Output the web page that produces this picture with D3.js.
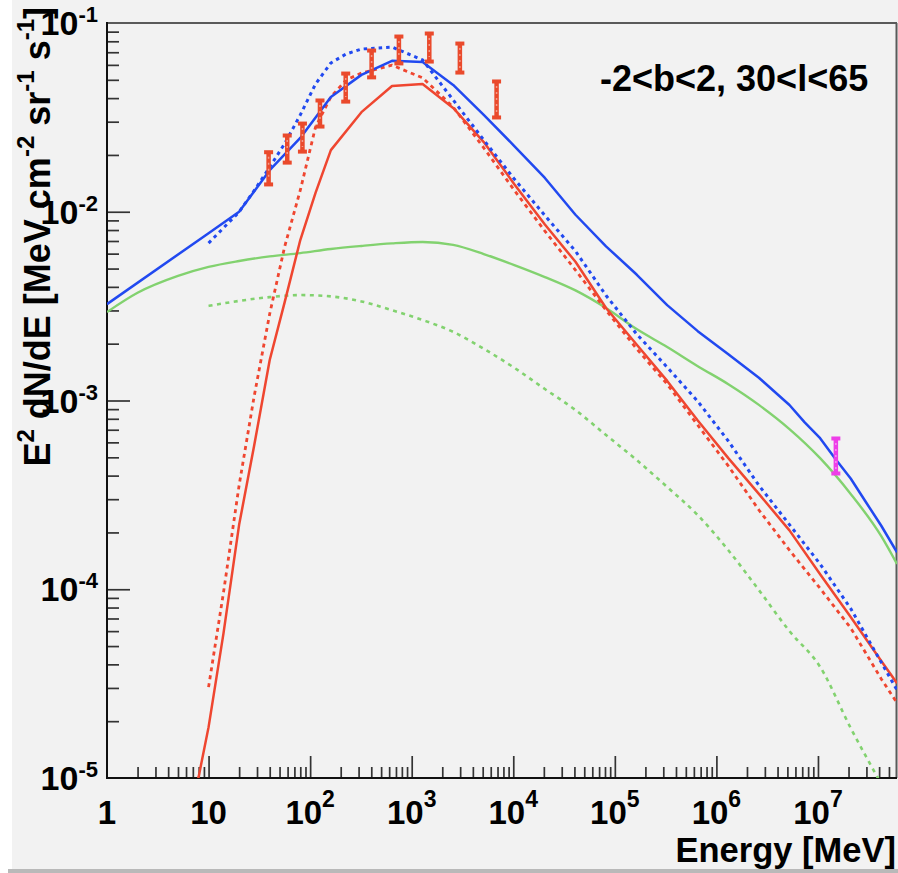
<!DOCTYPE html>
<html>
<head>
<meta charset="utf-8">
<script src="https://cdn.jsdelivr.net/npm/d3@7"></script>
<style>
  html, body { margin: 0; padding: 0; background: #ffffff; }
  svg { display: block; }
  text { font-family: "Liberation Sans", Arial, Helvetica, sans-serif; font-weight: bold; fill: #000; }
</style>
</head>
<body>
<svg id="chart" width="898" height="873"></svg>
<script>
// Diffuse gamma-ray spectrum, E^2 dN/dE in MeV cm^-2 sr^-1 s^-1 versus energy in MeV

// Model A (solid): total, pi0-decay, inverse Compton
const totalA_E = [1, 10, 20, 40, 80, 160, 320, 640, 1280, 2560, 5120, 10240, 20480, 40960, 81920, 163840, 327680, 655360, 1.31e6, 2.62e6, 5.24e6, 7.4e6, 1.05e7, 1.48e7, 2.1e7, 2.96e7, 4.2e7, 6e7];
const totalA = [3.24e-3, 7.7e-3, 1.0e-2, 0.0166, 0.0246, 0.0406, 0.0531, 0.0630, 0.0621, 0.0470, 0.0326, 0.0223, 0.0151, 0.00964, 0.00656, 0.00465, 0.0032, 0.00233, 0.00176, 0.00132, 9.47e-4, 7.66e-4, 6.31e-4, 4.91e-4, 3.86e-4, 2.9e-4, 2.17e-4, 1.57e-4];

const pionA_E = [7, 8, 10, 14, 20, 28, 40, 56, 80, 113, 160, 320, 640, 1280, 2560, 5120, 10240, 20480, 40960, 81920, 163840, 327680, 655360, 1.31e6, 2.62e6, 5.24e6, 1.05e7, 2.1e7, 4.2e7, 6e7];
const pionA = [7.4e-6, 1.02e-5, 1.86e-5, 5.8e-5, 2.2e-4, 5.7e-4, 1.64e-3, 3.3e-3, 7.08e-3, 0.0126, 0.0212, 0.0337, 0.0464, 0.0475, 0.0355, 0.0234, 0.0140, 8.56e-3, 5.43e-3, 3.09e-3, 1.98e-3, 1.27e-3, 7.83e-4, 4.95e-4, 3.2e-4, 2.05e-4, 1.2e-4, 7.13e-5, 4.17e-5, 3.18e-5];

const icA_E = [1, 2, 5, 10, 20, 40, 80, 160, 320, 640, 1280, 2560, 5120, 10240, 20480, 40960, 81920, 163840, 327680, 655360, 1.31e6, 2.62e6, 5.24e6, 1.05e7, 2.1e7, 4.2e7, 6e7];
const icA = [2.94e-3, 3.72e-3, 4.57e-3, 5.1e-3, 5.48e-3, 5.8e-3, 6.04e-3, 6.35e-3, 6.59e-3, 6.8e-3, 6.92e-3, 6.67e-3, 5.97e-3, 5.22e-3, 4.51e-3, 3.83e-3, 3.09e-3, 2.39e-3, 1.92e-3, 1.52e-3, 1.22e-3, 9.48e-4, 7.06e-4, 4.95e-4, 3.2e-4, 1.91e-4, 1.36e-4];

// Model B (dotted): total, pi0-decay, inverse Compton
const totalB_E = [10, 14, 20, 28, 40, 56, 80, 113, 160, 226, 320, 640, 1280, 2560, 5120, 10240, 20480, 40960, 81920, 163840, 327680, 655360, 1.31e6, 2.62e6, 5.24e6, 1.05e7, 2.1e7, 4.2e7, 6e7];
const totalB = [6.82e-3, 8.2e-3, 9.98e-3, 0.0129, 0.01726, 0.0229, 0.0326, 0.0475, 0.0614, 0.0685, 0.0728, 0.0746, 0.0637, 0.0391, 0.0240, 0.0149, 9.55e-3, 6.19e-3, 3.6e-3, 2.25e-3, 1.5e-3, 9.9e-4, 6.1e-4, 3.55e-4, 2.2e-4, 1.36e-4, 7.9e-5, 4.1e-5, 2.92e-5];

const pionB_E = [10, 14, 20, 28, 40, 56, 80, 113, 160, 226, 320, 640, 1280, 2560, 5120, 10240, 20480, 40960, 81920, 163840, 327680, 655360, 1.31e6, 2.62e6, 5.24e6, 1.05e7, 2.1e7, 4.2e7, 6e7];
const pionB = [3.03e-5, 9.55e-5, 3.56e-4, 1.04e-3, 2.88e-3, 6.5e-3, 0.0130, 0.0281, 0.0406, 0.0499, 0.0543, 0.0598, 0.0512, 0.0359, 0.0218, 0.0130, 7.9e-3, 4.91e-3, 3.01e-3, 1.88e-3, 1.22e-3, 7.4e-4, 4.5e-4, 2.63e-4, 1.61e-4, 1.01e-4, 6.24e-5, 3.35e-5, 2.5e-5];

const icB_E = [10, 20, 40, 80, 160, 320, 640, 1280, 2560, 5120, 10240, 20480, 40960, 81920, 163840, 327680, 655360, 1.31e6, 2.62e6, 5.24e6, 1.05e7, 2.1e7, 4.2e7];
const icB = [3.17e-3, 3.37e-3, 3.53e-3, 3.62e-3, 3.56e-3, 3.35e-3, 3.01e-3, 2.67e-3, 2.31e-3, 1.88e-3, 1.49e-3, 1.15e-3, 8.9e-4, 6.56e-4, 4.84e-4, 3.48e-4, 2.47e-4, 1.61e-4, 9.9e-5, 6.0e-5, 3.88e-5, 1.84e-5, 9.3e-6];

// Measured spectrum: energy-bin centres with lower / upper error limits
const dataE = [39, 59.5, 84, 125, 224, 403, 748, 1490, 2980, 6850];
const dataLo = [0.01387, 0.0181, 0.0207, 0.0281, 0.0381, 0.0512, 0.0607, 0.0621, 0.0543, 0.0314];
const dataHi = [0.0208, 0.0255, 0.0295, 0.0391, 0.0543, 0.0719, 0.0853, 0.0885, 0.0783, 0.0493];

// TeV point
const tevE = [1.5e7];
const tevLo = [4.08e-4];
const tevHi = [6.33e-4];

// Axis ticks and labels
const xMajor = [1, 10, 1e2, 1e3, 1e4, 1e5, 1e6, 1e7];
const xTickBase = ["1", "10", "10", "10", "10", "10", "10", "10"];
const xTickExp = ["", "", "2", "3", "4", "5", "6", "7"];
const yMajor = [1e-1, 1e-2, 1e-3, 1e-4, 1e-5];
const yTickExp = ["-1", "-2", "-3", "-4", "-5"];

const titleText = "-2<b<2, 30<l<65";

const svg = d3.select("#chart");
const plotLeft = 107, plotRight = 897, plotTop = 23, plotBottom = 778;

const x = d3.scaleLog().domain([1, 6e7]).range([plotLeft, plotRight]);
const y = d3.scaleLog().domain([1e-5, 1e-1]).range([plotBottom, plotTop]);

// canvas background
svg.append("rect").attr("x", 12).attr("y", 0).attr("width", 886).attr("height", 869).attr("fill", "#f2f2f2");
svg.append("rect").attr("x", 8).attr("y", 869).attr("width", 890).attr("height", 4).attr("fill", "#b9b9b9");

// minor tick positions
const xMinor = [];
for (let k = 0; k <= 7; k++) for (let m = 2; m <= 9; m++) { const v = m * Math.pow(10, k); if (v < 6e7) xMinor.push(v); }
const yMinor = [];
for (let k = -5; k < -1; k++) for (let m = 2; m <= 9; m++) yMinor.push(m * Math.pow(10, k));

function styleAxis(g) {
  g.select(".domain").remove();
  g.selectAll(".tick line").attr("stroke", "#333").attr("stroke-width", 1.7);
  g.selectAll(".tick text").remove();
}

svg.append("g").attr("transform", `translate(0,${plotBottom})`)
  .call(d3.axisBottom(x).tickValues(xMinor).tickSize(-11).tickSizeOuter(0).tickFormat(""))
  .call(styleAxis);
svg.append("g").attr("transform", `translate(0,${plotBottom})`)
  .call(d3.axisBottom(x).tickValues(xMajor.slice(1)).tickSize(-22).tickSizeOuter(0).tickFormat(""))
  .call(styleAxis);
svg.append("g").attr("transform", `translate(${plotLeft},0)`)
  .call(d3.axisLeft(y).tickValues(yMinor).tickSize(-12).tickSizeOuter(0).tickFormat(""))
  .call(styleAxis);
svg.append("g").attr("transform", `translate(${plotLeft},0)`)
  .call(d3.axisLeft(y).tickValues(yMajor.slice(1, 4)).tickSize(-23).tickSizeOuter(0).tickFormat(""))
  .call(styleAxis);

// frame
svg.append("line").attr("x1", plotLeft).attr("x2", plotRight).attr("y1", plotTop).attr("y2", plotTop)
  .attr("stroke", "#5a5a5a").attr("stroke-width", 2);
svg.append("line").attr("x1", plotRight - 0.5).attr("x2", plotRight - 0.5).attr("y1", plotTop).attr("y2", plotBottom)
  .attr("stroke", "#5a5a5a").attr("stroke-width", 2);
svg.append("line").attr("x1", plotLeft).attr("x2", plotLeft).attr("y1", plotTop - 1).attr("y2", plotBottom + 1)
  .attr("stroke", "#111").attr("stroke-width", 2);
svg.append("line").attr("x1", plotLeft - 1).attr("x2", plotRight).attr("y1", plotBottom).attr("y2", plotBottom)
  .attr("stroke", "#111").attr("stroke-width", 2);

// x tick labels
const xl = svg.append("g").selectAll("text").data(xMajor).join("text")
  .attr("x", d => x(d)).attr("y", 824).attr("text-anchor", "middle").attr("font-size", 33);
xl.append("tspan").text((d, i) => xTickBase[i]);
xl.append("tspan").attr("font-size", 23).attr("dy", -17).text((d, i) => xTickExp[i]);

// y tick labels
const yl = svg.append("g").selectAll("text").data(yMajor).join("text")
  .attr("x", 98).attr("y", d => y(d) + 12).attr("text-anchor", "end").attr("font-size", 34);
yl.append("tspan").text("10");
yl.append("tspan").attr("font-size", 22).attr("dy", -13).text((d, i) => yTickExp[i]);

// axis titles
svg.append("text").attr("x", 896).attr("y", 862).attr("text-anchor", "end").attr("font-size", 34.5)
  .text("Energy [MeV]");

const yt = svg.append("text").attr("transform", "translate(50,7) rotate(-90)")
  .attr("text-anchor", "end").attr("font-size", 36);
const ytParts = [["E", 0], ["2", 1], [" dN/dE [MeV cm", 0], ["-2", 1], [" sr", 0], ["-1", 1], [" s", 0], ["-1", 1], ["]", 0]];
let raised = false;
ytParts.forEach(([t, sup]) => {
  const ts = yt.append("tspan").text(t);
  if (sup) ts.attr("font-size", 24);
  if (sup && !raised) { ts.attr("dy", -16); raised = true; }
  else if (!sup && raised) { ts.attr("dy", 16); raised = false; }
});

svg.append("text").attr("x", 600).attr("y", 91).attr("font-size", 36).text(titleText);

// curves
svg.append("clipPath").attr("id", "plotArea").append("rect")
  .attr("x", plotLeft).attr("y", plotTop).attr("width", plotRight - plotLeft).attr("height", plotBottom - plotTop);
const plot = svg.append("g").attr("clip-path", "url(#plotArea)");

const straight = d3.line().x(d => x(d[0])).y(d => y(d[1]));
const smooth = d3.line().x(d => x(d[0])).y(d => y(d[1])).curve(d3.curveMonotoneX);
const blue = "#2149f0", red = "#ef4630", green = "#82d26f";

const curves = [
  { E: icB_E, V: icB, color: green, dash: "4,4.5", width: 2.6, gen: smooth },
  { E: icA_E, V: icA, color: green, dash: null, width: 2.4, gen: smooth },
  { E: pionB_E, V: pionB, color: red, dash: "4,4", width: 2.8, gen: straight },
  { E: pionA_E, V: pionA, color: red, dash: null, width: 2.5, gen: straight },
  { E: totalB_E, V: totalB, color: blue, dash: "3.5,4", width: 3, gen: straight },
  { E: totalA_E, V: totalA, color: blue, dash: null, width: 2.5, gen: straight }
];
curves.forEach(c => {
  plot.append("path").datum(c.E.map((e, i) => [e, c.V[i]]))
    .attr("d", c.gen).attr("fill", "none").attr("stroke", c.color)
    .attr("stroke-width", c.width).attr("stroke-dasharray", c.dash)
    .attr("stroke-linejoin", "round");
});

// error bars
function errorBars(E, lo, hi, color) {
  const g = plot.append("g").selectAll("g").data(E).join("g");
  g.append("line").attr("x1", d => x(d)).attr("x2", d => x(d))
    .attr("y1", (d, i) => y(hi[i])).attr("y2", (d, i) => y(lo[i]))
    .attr("stroke", color).attr("stroke-width", 4.5);
  g.append("rect").attr("x", d => x(d) - 4.5).attr("y", (d, i) => y(hi[i]) - 1.5)
    .attr("width", 9).attr("height", 4).attr("fill", color);
  g.append("rect").attr("x", d => x(d) - 4.5).attr("y", (d, i) => y(lo[i]) - 2.5)
    .attr("width", 9).attr("height", 4).attr("fill", color);
  g.append("line").attr("x1", d => x(d)).attr("x2", d => x(d))
    .attr("y1", (d, i) => y(hi[i]) + 5).attr("y2", (d, i) => y(lo[i]) - 5)
    .attr("stroke", "#ffffff").attr("stroke-opacity", 0.45).attr("stroke-width", 1.5)
    .attr("stroke-dasharray", "2,4");
}
errorBars(dataE, dataLo, dataHi, "#ea4a2c");
errorBars(tevE, tevLo, tevHi, "#ee3ee8");
</script>
</body>
</html>
